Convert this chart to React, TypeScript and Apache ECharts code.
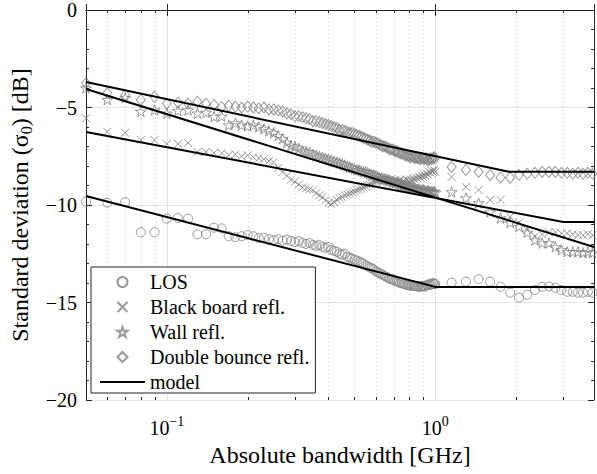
import React, { useEffect, useRef } from "react";
import * as echarts from "echarts";

// Absolute bandwidth [GHz]
const freqs = [
  0.05, 0.06, 0.07, 0.08, 0.09,
  0.1, 0.11, 0.12, 0.13, 0.14, 0.15, 0.16, 0.17, 0.18, 0.19,
  0.2, 0.21, 0.22, 0.23, 0.24, 0.25, 0.26, 0.27, 0.28, 0.29,
  0.3, 0.31, 0.32, 0.33, 0.34, 0.35, 0.36, 0.37, 0.38, 0.39,
  0.4, 0.41, 0.42, 0.43, 0.44, 0.45, 0.46, 0.47, 0.48, 0.49,
  0.5, 0.51, 0.52, 0.53, 0.54, 0.55, 0.56, 0.57, 0.58, 0.59,
  0.6, 0.61, 0.62, 0.63, 0.64, 0.65, 0.66, 0.67, 0.68, 0.69,
  0.7, 0.71, 0.72, 0.73, 0.74, 0.75, 0.76, 0.77, 0.78, 0.79,
  0.8, 0.81, 0.82, 0.83, 0.84, 0.85, 0.86, 0.87, 0.88, 0.89,
  0.9, 0.91, 0.92, 0.93, 0.94, 0.95, 0.96, 0.97, 0.98, 0.99,
  1.0,
  1.15, 1.3, 1.45, 1.6, 1.75, 1.9, 2.05, 2.2, 2.35, 2.5, 2.65, 2.8, 2.95, 3.1, 3.25, 3.4, 3.55, 3.7, 3.85,
];

const losVals = [
  -9.83, -9.88, -9.85, -11.4, -11.4,
  -10.7, -10.67, -10.7, -11.5, -11.5, -11.16, -11.2, -11.6, -11.65, -11.6,
  -11.54, -11.6, -11.7, -11.68, -11.75, -11.8, -11.75, -11.83, -11.78, -11.85,
  -11.9, -11.85, -11.95, -12.0, -11.95, -12.05, -12.1, -12.05, -12.15, -12.2,
  -12.15, -12.3, -12.35, -12.4, -12.5, -12.55, -12.5, -12.65, -12.7, -12.75,
  -12.8, -12.85, -12.9, -12.95, -13.0, -13.1, -13.15, -13.2, -13.25, -13.3,
  -13.4, -13.45, -13.5, -13.55, -13.6, -13.65, -13.7, -13.75, -13.8, -13.8,
  -13.85, -13.9, -13.9, -13.95, -14.0, -14.0, -14.05, -14.05, -14.1, -14.1,
  -14.1, -14.15, -14.1, -14.15, -14.15, -14.15, -14.2, -14.15, -14.2, -14.15,
  -14.15, -14.2, -14.15, -14.1, -14.1, -14.05, -14.1, -14.05, -14.0, -14.05,
  -14.05,
  -13.98, -13.93, -13.8, -13.93, -14.2, -14.5, -14.75, -14.6, -14.36, -14.2, -14.18, -14.25, -14.36, -14.45, -14.45, -14.5, -14.5, -14.45, -14.5,
];

const boardVals = [
  -5.55, -6.25, -6.3, -6.67, -6.67,
  -6.87, -6.87, -6.82, -7.28, -7.28, -7.33, -7.33, -7.44, -7.4, -7.5,
  -7.45, -7.55, -7.6, -7.65, -7.75, -7.8, -8.1, -8.3, -8.5, -8.7,
  -8.8, -8.95, -9.1, -9.15, -9.2, -9.25, -9.4, -9.5, -9.6, -9.75,
  -9.9, -9.95, -9.85, -9.75, -9.65, -9.6, -9.5, -9.45, -9.4, -9.35,
  -9.3, -9.25, -9.2, -9.15, -9.1, -9.05, -9.0, -8.95, -8.9, -8.85,
  -8.8, -8.75, -8.7, -8.75, -8.8, -8.7, -8.75, -8.85, -8.7, -8.8,
  -8.9, -8.75, -8.85, -8.8, -8.7, -8.85, -8.75, -8.8, -8.7, -8.75,
  -8.8, -8.7, -8.75, -8.65, -8.7, -8.6, -8.65, -8.55, -8.6, -8.5,
  -8.55, -8.45, -8.5, -8.4, -8.45, -8.3, -8.35, -8.25, -8.3, -8.2,
  -8.3,
  -8.56, -9.07, -9.23, -9.74, -9.74, -10.6, -10.9, -11.28, -11.6, -11.5, -11.4, -11.4, -11.45, -11.45, -11.5, -11.55, -11.55, -11.5, -11.55,
];

const wallVals = [
  -4.0, -4.6, -4.5, -5.2, -5.13,
  -5.3, -5.16, -5.13, -5.3, -5.25, -5.47, -5.45, -5.9, -5.8, -5.9,
  -5.95, -5.9, -6.0, -6.1, -6.2, -6.3, -6.45, -6.6, -6.8, -6.95,
  -7.0, -7.1, -7.2, -7.25, -7.3, -7.4, -7.45, -7.5, -7.55, -7.6,
  -7.65, -7.7, -7.75, -7.8, -7.85, -7.9, -7.95, -8.0, -8.05, -8.1,
  -8.15, -8.2, -8.2, -8.25, -8.3, -8.3, -8.35, -8.4, -8.45, -8.45,
  -8.5, -8.55, -8.6, -8.6, -8.65, -8.65, -8.7, -8.7, -8.75, -8.8,
  -8.8, -8.85, -8.85, -8.9, -8.95, -8.95, -9.0, -9.0, -9.05, -9.05,
  -9.1, -9.1, -9.1, -9.15, -9.15, -9.2, -9.2, -9.2, -9.25, -9.25,
  -9.2, -9.25, -9.3, -9.3, -9.25, -9.3, -9.35, -9.3, -9.35, -9.3,
  -9.35,
  -9.33, -9.64, -9.9, -10.36, -10.67, -10.9, -11.1, -11.4, -11.8, -11.95, -11.95, -12.15, -12.3, -12.4, -12.4, -12.4, -12.45, -12.4, -12.45,
];

const doubleVals = [
  -3.75, -4.26, -4.36, -4.6, -4.45,
  -4.8, -4.75, -4.8, -4.7, -4.8, -4.87, -4.97, -4.9, -4.95, -5.0,
  -4.95, -5.0, -5.05, -5.0, -5.1, -5.1, -5.15, -5.2, -5.3, -5.35,
  -5.45, -5.45, -5.5, -5.55, -5.6, -5.7, -5.7, -5.75, -5.8, -5.85,
  -5.9, -5.95, -6.0, -6.05, -6.15, -6.15, -6.2, -6.25, -6.3, -6.3,
  -6.35, -6.4, -6.45, -6.5, -6.55, -6.6, -6.65, -6.7, -6.75, -6.75,
  -6.8, -6.85, -6.9, -6.95, -7.0, -7.0, -7.05, -7.1, -7.15, -7.15,
  -7.2, -7.25, -7.25, -7.3, -7.35, -7.35, -7.4, -7.45, -7.45, -7.5,
  -7.5, -7.55, -7.5, -7.55, -7.6, -7.55, -7.6, -7.6, -7.65, -7.6,
  -7.6, -7.65, -7.6, -7.65, -7.7, -7.65, -7.6, -7.65, -7.6, -7.55,
  -7.6,
  -8.05, -8.2, -8.3, -8.46, -8.6, -8.6, -8.45, -8.4, -8.35, -8.3, -8.3, -8.3, -8.35, -8.35, -8.4, -8.35, -8.4, -8.35, -8.4,
];

// Piecewise model lines: [bandwidth, dB]
const modelLos = [[0.05, -9.54], [1.0, -14.2], [3.9, -14.2]];
const modelBoard = [[0.05, -6.26], [3.0, -10.87], [3.9, -10.87]];
const modelWall = [[0.05, -4.05], [3.9, -12.15]];
const modelDouble = [[0.05, -3.69], [1.88, -8.3], [3.9, -8.3]];

const minorX = [0.06, 0.07, 0.08, 0.09, 0.2, 0.3, 0.4, 0.5, 0.6, 0.7, 0.8, 0.9, 2, 3];

const legendNames = ["LOS", "Black board refl.", "Wall refl.", "Double bounce refl.", "model"];

const FONT = "'Liberation Serif', 'Times New Roman', serif";
const GRAY = "#808080";
const AXIS = "#262626";

const STAR = "path://M50,0L61.2,34.5L97.6,34.5L68.2,55.9L79.4,90.5L50,69.1L20.6,90.5L31.8,55.9L2.4,34.5L38.8,34.5Z";
const CROSS = "path://M0,0L10,10M10,0L0,10";
const DIAMOND = "path://M50,0L100,50L50,100L0,50Z";
const LINE_ICON = "path://M0,0L45,0L45,2.2L0,2.2Z";

export default function App() {
  const ref = useRef<HTMLDivElement>(null);

  useEffect(() => {
    if (!ref.current) return;
    const chart = echarts.init(ref.current, undefined, { renderer: "svg" });

    const markerStyle = { color: "rgba(0,0,0,0)", borderColor: GRAY, borderWidth: 1 };
    const pts = (vals: number[]) => freqs.map((f, i) => [f, vals[i]]);
    const scatter = (name: string, vals: number[], symbol: string, size: any) => ({
      type: "scatter",
      name,
      data: pts(vals),
      symbol,
      symbolSize: size,
      symbolKeepAspect: true,
      itemStyle: markerStyle,
      z: 3,
      silent: true,
    });
    const model = (data: number[][]) => ({
      type: "line",
      name: "model",
      data,
      symbol: "none",
      lineStyle: { color: "#000", width: 2 },
      itemStyle: { color: "#000" },
      z: 4,
      silent: true,
    });

    const minus = (s: string | number) => String(s).replace("-", "\u2212");
    const xLabelFmt = (v: number) => {
      const e = Math.round(Math.log10(v));
      if (Math.abs(v - Math.pow(10, e)) > 1e-6 * v) return "";
      return `{b|10}{s|${minus(e)}}`;
    };

    const option: any = {
      animation: false,
      backgroundColor: "#fff",
      grid: { left: 85, right: 1, top: 10, bottom: 74, containLabel: false },
      legend: {
        data: legendNames.map((n) =>
          n === "model" ? { name: n, icon: LINE_ICON, itemStyle: { color: "#000", borderWidth: 0 } } : { name: n }
        ),
        orient: "vertical",
        left: 91,
        top: 267,
        padding: [5, 6, 1, 9],
        itemWidth: 45,
        itemHeight: 10,
        itemGap: 5,
        backgroundColor: "#fff",
        borderColor: AXIS,
        borderWidth: 1,
        borderRadius: 0,
        selectedMode: false,
        textStyle: { fontFamily: FONT, fontSize: 20, color: "#000", lineHeight: 20 },
      },
      xAxis: [
        {
          type: "log",
          logBase: 10,
          min: 0.05,
          max: 3.9,
          position: "bottom",
          name: "Absolute bandwidth [GHz]",
          nameLocation: "middle",
          nameGap: 43,
          nameTextStyle: { fontFamily: FONT, fontSize: 24, color: "#000" },
          axisLine: { show: true, lineStyle: { color: AXIS, width: 1 } },
          axisTick: { show: true, inside: true, length: 6, lineStyle: { color: AXIS } },
          splitLine: { show: true, lineStyle: { color: "#e3e3e3", width: 1 } },
          axisLabel: {
            margin: 14,
            formatter: xLabelFmt,
            rich: {
              b: { fontFamily: FONT, fontSize: 20, color: "#000", lineHeight: 24, verticalAlign: "bottom" },
              s: { fontFamily: FONT, fontSize: 14, color: "#000", lineHeight: 14, verticalAlign: "top" },
            },
          },
        },
        {
          type: "log",
          logBase: 10,
          min: 0.05,
          max: 3.9,
          position: "top",
          axisLine: { show: true, lineStyle: { color: AXIS, width: 1 } },
          axisTick: { show: true, inside: true, length: 6, lineStyle: { color: AXIS } },
          splitLine: { show: false },
          axisLabel: { show: false },
        },
      ],
      yAxis: [
        {
          type: "value",
          min: -20,
          max: 0,
          interval: 5,
          position: "left",
          name: "Standard deviation (σ{sub|0}) [dB]",
          nameLocation: "middle",
          nameGap: 52,
          nameTextStyle: {
            fontFamily: FONT,
            fontSize: 24,
            color: "#000",
            rich: {
              sub: { fontFamily: FONT, fontSize: 16, color: "#000", verticalAlign: "bottom", lineHeight: 28 },
            },
          },
          axisLine: { show: true, lineStyle: { color: AXIS, width: 1 } },
          axisTick: { show: true, inside: true, length: 6, lineStyle: { color: AXIS } },
          minorTick: { show: true, splitNumber: 5, length: 3, lineStyle: { color: AXIS } },
          splitLine: { show: true, lineStyle: { color: "#e3e3e3", width: 1 } },
          axisLabel: { fontFamily: FONT, fontSize: 20, color: "#000", margin: 9, formatter: (v: number) => minus(v) },
        },
        {
          type: "value",
          min: -20,
          max: 0,
          interval: 5,
          position: "right",
          axisLine: { show: true, lineStyle: { color: AXIS, width: 1 } },
          axisTick: { show: true, inside: true, length: 6, lineStyle: { color: AXIS } },
          minorTick: { show: true, splitNumber: 5, length: 3, lineStyle: { color: AXIS } },
          splitLine: { show: false },
          axisLabel: { show: false },
        },
      ],
      series: [
        {
          type: "custom",
          name: "minorGrid",
          silent: true,
          clip: false,
          z: 1,
          data: minorX.map((x) => [x, 0]),
          renderItem: (params: any, api: any) => {
            const x = api.value(0);
            const top = api.coord([x, 0]);
            const bot = api.coord([x, -20]);
            const px = Math.round(top[0]) + 0.5;
            return {
              type: "group",
              children: [
                {
                  type: "line",
                  shape: { x1: px, y1: top[1], x2: px, y2: bot[1] },
                  style: { stroke: "#c8c8c8", lineWidth: 1, lineDash: [1, 3] },
                },
                {
                  type: "line",
                  shape: { x1: px, y1: bot[1], x2: px, y2: bot[1] - 3 },
                  style: { stroke: AXIS, lineWidth: 1 },
                },
                {
                  type: "line",
                  shape: { x1: px, y1: top[1], x2: px, y2: top[1] + 3 },
                  style: { stroke: AXIS, lineWidth: 1 },
                },
              ],
            };
          },
        },
        scatter("LOS", losVals, "circle", 9),
        scatter("Black board refl.", boardVals, CROSS, 8),
        scatter("Wall refl.", wallVals, STAR, 11),
        scatter("Double bounce refl.", doubleVals, DIAMOND, [9, 11]),
        model(modelLos),
        model(modelBoard),
        model(modelWall),
        model(modelDouble),
      ],
    };

    chart.setOption(option);
    return () => chart.dispose();
  }, []);

  return (
    <div
      ref={ref}
      style={{ position: "fixed", left: 0, top: 0, width: 597, height: 474, background: "#fff" }}
    />
  );
}
